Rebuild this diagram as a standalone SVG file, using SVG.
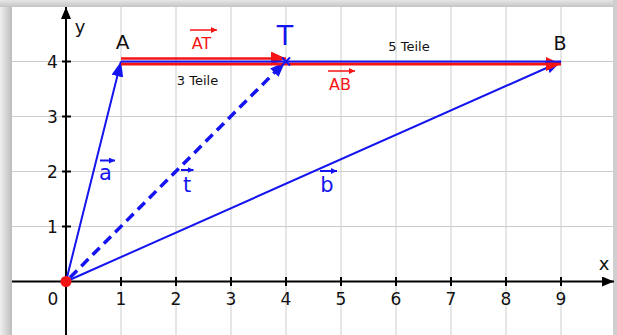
<svg xmlns="http://www.w3.org/2000/svg" width="617" height="335" viewBox="0 0 617 335">
<defs>
<linearGradient id="gl" x1="0" y1="0" x2="1" y2="0"><stop offset="0" stop-color="#efefef"/><stop offset="1" stop-color="#bdbdbd"/></linearGradient>
<linearGradient id="gt" x1="0" y1="0" x2="0" y2="1"><stop offset="0" stop-color="#e6e6e6"/><stop offset="1" stop-color="#c4c4c4"/></linearGradient>
<marker id="hk" markerWidth="13" markerHeight="11" refX="12" refY="5" orient="auto" markerUnits="userSpaceOnUse"><path d="M0,0 L12,5 L0,10 z" fill="#000"/></marker>
<marker id="hb" markerWidth="16" markerHeight="12" refX="15" refY="6" orient="auto" markerUnits="userSpaceOnUse"><path d="M0,0 L15,6 L0,12 z" fill="#1414f0"/></marker>
<marker id="hr" markerWidth="16" markerHeight="14" refX="15" refY="7" orient="auto" markerUnits="userSpaceOnUse"><path d="M0,0 L15,7 L0,14 z" fill="#f51414"/></marker>
<marker id="sb" markerWidth="7" markerHeight="6" refX="6" refY="3" orient="auto" markerUnits="userSpaceOnUse"><path d="M0,0 L6,3 L0,6 z" fill="#1414f0"/></marker>
<marker id="sr" markerWidth="7" markerHeight="6" refX="6" refY="3" orient="auto" markerUnits="userSpaceOnUse"><path d="M0,0 L6,3 L0,6 z" fill="#f51414"/></marker>
</defs>
<style>
text{font-family:"DejaVu Sans","Liberation Sans",sans-serif}
.grid line{stroke:#cdcdcd;stroke-width:1}
.ax{stroke:#000;stroke-width:2;fill:none}
.tk{stroke:#000;stroke-width:2}
.num{font-size:17px;fill:#111;text-anchor:middle}
.lbl{fill:#111;text-anchor:middle}
.bl{stroke:#1414f0;stroke-width:2;fill:none}
.rd{stroke:#f51414;fill:none}
.vb{fill:#1414f0;font-size:21px;text-anchor:middle}
.vr{fill:#f51414;font-size:16px;text-anchor:middle}
.sm{font-size:13px;fill:#111;text-anchor:middle}
</style>
<rect x="0" y="0" width="617" height="335" fill="#d0d0d0"/>
<rect x="0" y="0" width="12" height="335" fill="url(#gl)"/>
<rect x="0" y="0" width="617" height="7" fill="url(#gt)"/>
<rect x="613" y="0" width="4" height="335" fill="#cfcfcf"/>
<rect x="12" y="7" width="601" height="328" fill="#fff"/>
<g class="grid">
<line x1="121" y1="7" x2="121" y2="335"/><line x1="176" y1="7" x2="176" y2="335"/><line x1="231" y1="7" x2="231" y2="335"/><line x1="286" y1="7" x2="286" y2="335"/><line x1="341" y1="7" x2="341" y2="335"/><line x1="396" y1="7" x2="396" y2="335"/><line x1="451" y1="7" x2="451" y2="335"/><line x1="506" y1="7" x2="506" y2="335"/><line x1="561" y1="7" x2="561" y2="335"/>
<line x1="12" y1="226.5" x2="613" y2="226.5"/><line x1="12" y1="171.5" x2="613" y2="171.5"/><line x1="12" y1="116.5" x2="613" y2="116.5"/><line x1="12" y1="61.5" x2="613" y2="61.5"/>
</g>
<g id="axes">
<line class="ax" x1="12" y1="281.5" x2="614" y2="281.5" marker-end="url(#hk)"/>
<line class="ax" x1="66" y1="335" x2="66" y2="7" marker-end="url(#hk)"/>
<g class="tk">
<line x1="121" y1="277" x2="121" y2="286"/><line x1="176" y1="277" x2="176" y2="286"/><line x1="231" y1="277" x2="231" y2="286"/><line x1="286" y1="277" x2="286" y2="286"/><line x1="341" y1="277" x2="341" y2="286"/><line x1="396" y1="277" x2="396" y2="286"/><line x1="451" y1="277" x2="451" y2="286"/><line x1="506" y1="277" x2="506" y2="286"/><line x1="561" y1="277" x2="561" y2="286"/>
<line x1="62" y1="226.5" x2="71" y2="226.5"/><line x1="62" y1="171.5" x2="71" y2="171.5"/><line x1="62" y1="116.5" x2="71" y2="116.5"/><line x1="62" y1="61.5" x2="71" y2="61.5"/>
</g>
<text class="num" x="53" y="305">0</text>
<text class="num" x="121" y="305">1</text><text class="num" x="176" y="305">2</text><text class="num" x="231" y="305">3</text><text class="num" x="286" y="305">4</text><text class="num" x="341" y="305">5</text><text class="num" x="396" y="305">6</text><text class="num" x="451" y="305">7</text><text class="num" x="506" y="305">8</text><text class="num" x="561" y="305">9</text>
<text class="num" x="52.5" y="233">1</text><text class="num" x="52.5" y="178">2</text><text class="num" x="52.5" y="123">3</text><text class="num" x="52.5" y="68">4</text>
<text class="lbl" x="80" y="33" font-size="18">y</text>
<text class="lbl" x="604" y="270" font-size="18">x</text>
</g>
<g id="connectors">
<line id="vec-b" class="bl" x1="66" y1="281.5" x2="561" y2="61.5" marker-end="url(#hb)"/>
<line id="vec-a" class="bl" x1="66" y1="281.5" x2="121" y2="61.5" marker-end="url(#hb)"/>
<line id="vec-t" class="bl" stroke-width="3.5" stroke-dasharray="10,6" x1="70" y1="277.5" x2="285" y2="62" marker-end="url(#hb)" style="stroke-width:3.5"/>
<line id="vec-AB" class="rd" stroke-width="3" x1="121" y1="64" x2="561" y2="64" marker-end="url(#hr)"/>
<line id="vec-AT" class="rd" stroke-width="2.5" x1="121" y1="58.5" x2="286" y2="58.5" marker-end="url(#hr)"/>
<line class="bl" x1="121" y1="61.5" x2="561" y2="61.5"/>
</g>
<g id="node-O"><circle cx="66" cy="281.5" r="5.5" fill="#f51414"/></g>
<g id="node-A"><text class="lbl" x="122.5" y="48.5" font-size="20">A</text></g>
<g id="node-B"><text class="lbl" x="560" y="50" font-size="19">B</text></g>
<g id="node-T">
<path d="M282,57.5 L290,65.5 M290,57.5 L282,65.5" stroke="#1414f0" stroke-width="2"/>
<text x="285" y="45" font-size="27" fill="#1414f0" text-anchor="middle">T</text>
</g>
<g id="label-AT"><text class="vr" x="201.5" y="48.5">AT</text><line class="rd" stroke-width="1.5" x1="190" y1="30" x2="217" y2="30" marker-end="url(#sr)"/></g>
<g id="label-AB"><text class="vr" x="340" y="90">AB</text><line class="rd" stroke-width="1.5" x1="328" y1="71" x2="355" y2="71" marker-end="url(#sr)"/></g>
<g id="label-3"><text class="sm" x="197.5" y="84.5">3 Teile</text></g>
<g id="label-5"><text class="sm" x="409" y="50.5">5 Teile</text></g>
<g id="label-a"><text class="vb" x="105.5" y="179.5">a</text><line class="bl" stroke-width="1.5" x1="100" y1="160.5" x2="115" y2="160.5" marker-end="url(#sb)"/></g>
<g id="label-t"><text class="vb" x="187" y="191.5">t</text><line class="bl" stroke-width="1.5" x1="181" y1="170" x2="193.5" y2="170" marker-end="url(#sb)"/></g>
<g id="label-b"><text class="vb" x="327" y="191.5">b</text><line class="bl" stroke-width="1.5" x1="320" y1="171" x2="337" y2="171" marker-end="url(#sb)"/></g>
</svg>
